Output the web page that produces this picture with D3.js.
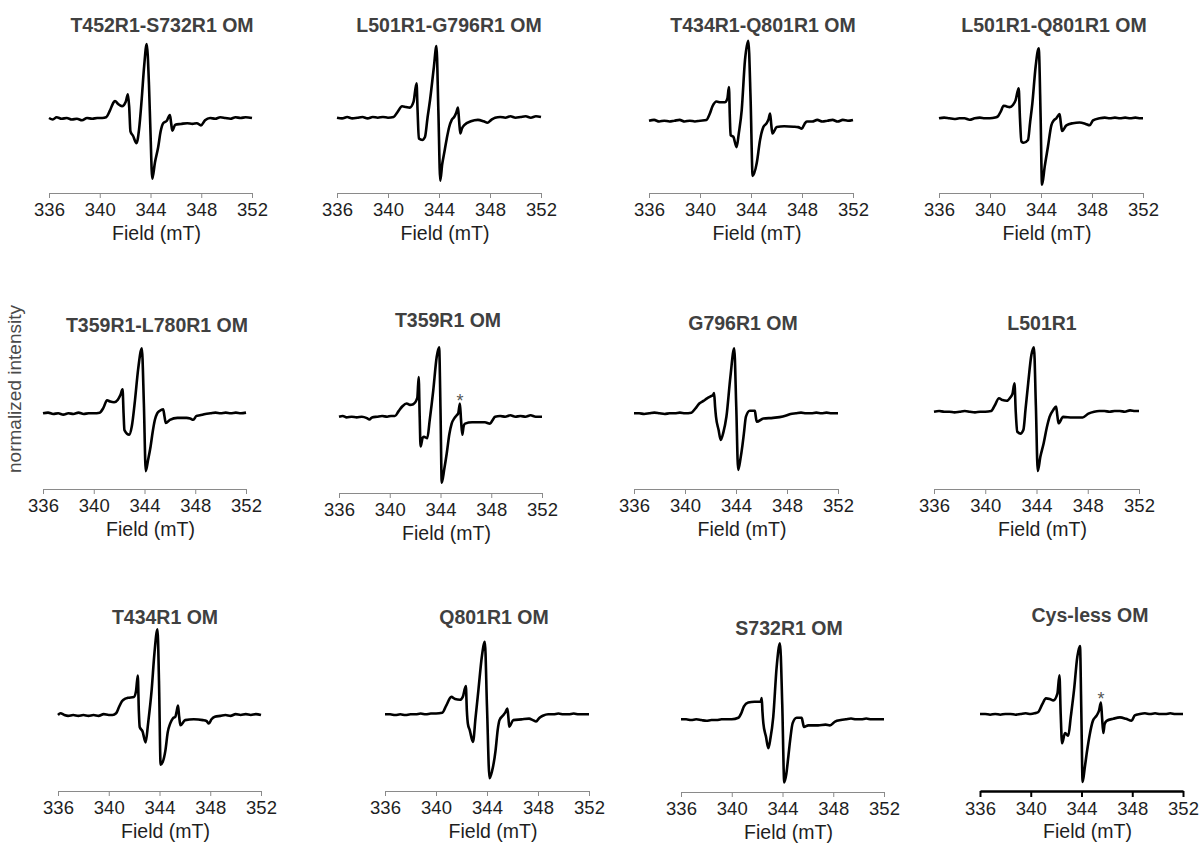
<!DOCTYPE html>
<html>
<head>
<meta charset="utf-8">
<script src="https://cdn.jsdelivr.net/npm/d3@7"></script>
<style>
  body { margin: 0; background: #fff; }
  svg { display: block; }
  text { font-family: "Liberation Sans", Arial, sans-serif; }
</style>
</head>
<body>
<svg width="1204" height="845"></svg>
<script>
// CW EPR spectra, [field (mT), normalized intensity]
const t452s732 = [[336,0],[336.3,-0.02],[336.6,0.01],[337,-0.01],[337.4,0],[337.8,-0.02],[338.2,-0.01],[338.6,-0.03],[339,0],[339.4,-0.01],[339.8,0],[340.2,0],[340.5,0.01],[340.8,0.1],[341.05,0.2],[341.2,0.23],[341.45,0.19],[341.75,0.16],[342.05,0.22],[342.22,0.32],[342.32,0.15],[342.42,-0.18],[342.62,-0.24],[342.9,-0.34],[343.1,-0.15],[343.3,0.24],[343.5,0.7],[343.7,1],[343.88,0.45],[344,-0.2],[344.14,-0.82],[344.35,-0.6],[344.6,-0.4],[344.8,-0.18],[345,-0.07],[345.27,-0.04],[345.53,0.04],[345.62,-0.06],[345.72,-0.17],[345.95,-0.09],[346.4,-0.08],[346.9,-0.07],[347.3,-0.08],[347.65,-0.07],[347.98,-0.1],[348.3,-0.03],[348.7,0],[349.1,-0.01],[349.5,0.01],[349.9,0],[350.3,-0.01],[350.7,0.01],[351.1,0],[351.5,0.01],[352,0]];
const l501g796 = [[336,0],[336.4,-0.01],[336.8,0.01],[337.2,-0.01],[337.6,0],[338,0.01],[338.4,-0.01],[338.8,0.01],[339.2,0],[339.6,0.01],[340,0],[340.44,0.01],[340.75,0.08],[341.1,0.16],[341.4,0.15],[341.7,0.14],[342,0.22],[342.24,0.48],[342.32,0.1],[342.42,-0.29],[342.69,-0.31],[342.9,-0.27],[343.1,0],[343.3,0.25],[343.6,0.71],[343.8,1],[343.95,0.1],[344.1,-0.88],[344.25,-0.65],[344.4,-0.5],[344.6,-0.3],[344.8,-0.13],[345,-0.03],[345.19,0.01],[345.35,0.07],[345.49,0.14],[345.58,-0.05],[345.67,-0.22],[345.8,-0.15],[346,-0.1],[346.5,-0.05],[347.05,-0.03],[347.5,-0.05],[347.8,-0.07],[348.1,-0.03],[348.4,0],[348.8,0.01],[349.2,0],[349.6,0.02],[350,0],[350.4,0.01],[350.8,0.02],[351.2,0],[351.6,0.02],[352,0.01]];
const t434q801 = [[336,0],[336.4,0.01],[336.8,-0.01],[337.2,0],[337.6,-0.01],[338,0],[338.4,0.01],[338.8,-0.01],[339.2,0],[339.6,-0.01],[340,0],[340.5,0.01],[340.75,0.08],[340.98,0.18],[341.3,0.24],[341.6,0.23],[341.95,0.23],[342.15,0.28],[342.27,0.42],[342.34,0.05],[342.4,-0.18],[342.61,-0.2],[342.87,-0.33],[343.05,-0.15],[343.27,0.13],[343.53,0.76],[343.79,1],[343.97,0.26],[344.13,-0.69],[344.45,-0.53],[344.71,-0.24],[344.97,-0.08],[345.23,-0.03],[345.38,0.02],[345.5,0.09],[345.59,-0.05],[345.68,-0.16],[346.02,-0.08],[346.6,-0.07],[347.33,-0.075],[347.7,-0.08],[347.99,-0.1],[348.2,-0.04],[348.38,-0.01],[348.8,-0.01],[349.2,0.01],[349.6,-0.01],[350,0],[350.4,0.01],[350.8,-0.01],[351.2,0.01],[351.6,0],[352,0.01]];
const l501q801 = [[336,0],[336.4,0.01],[336.8,0],[337.2,-0.01],[337.6,0],[338,0],[338.4,-0.02],[338.8,0],[339.2,0.01],[339.6,0],[340,0],[340.4,0.01],[340.63,0.03],[340.85,0.1],[341.07,0.18],[341.3,0.17],[341.54,0.16],[341.8,0.19],[342.01,0.26],[342.25,0.43],[342.35,0],[342.46,-0.33],[342.64,-0.35],[342.98,-0.31],[343.15,-0.05],[343.32,0.21],[343.58,0.74],[343.82,1],[343.97,0.02],[344.08,-0.95],[344.29,-0.69],[344.55,-0.4],[344.81,-0.1],[345,-0.03],[345.2,0],[345.46,0.06],[345.55,-0.06],[345.65,-0.18],[345.99,-0.1],[346.5,-0.07],[347.03,-0.06],[347.5,-0.08],[347.82,-0.1],[348.08,-0.03],[348.6,0],[349,0.01],[349.4,0],[349.8,0.01],[350.2,0],[350.6,0.01],[351,0],[351.4,0.01],[351.8,0],[352,0]];
const t359l780 = [[336,0],[336.4,0.01],[336.8,-0.01],[337.2,0],[337.6,-0.02],[338,0],[338.4,-0.01],[338.8,0.01],[339.2,-0.01],[339.6,0],[340,0],[340.47,0.01],[340.75,0.08],[341.05,0.2],[341.3,0.18],[341.6,0.17],[341.9,0.21],[342.1,0.28],[342.27,0.37],[342.35,0],[342.42,-0.26],[342.79,-0.33],[343,-0.2],[343.25,0.2],[343.5,0.68],[343.79,1],[343.95,0.15],[344.1,-0.89],[344.28,-0.72],[344.48,-0.51],[344.65,-0.28],[344.82,-0.1],[345,0],[345.21,0.04],[345.47,0.06],[345.57,-0.04],[345.68,-0.15],[346,-0.1],[346.6,-0.07],[347.32,-0.07],[347.6,-0.08],[347.84,-0.1],[348.1,-0.04],[348.37,-0.03],[348.8,-0.01],[349.2,0],[349.6,0.01],[350,0],[350.4,0.01],[350.8,0],[351.2,0.01],[351.6,0],[352,0.01]];
const t359 = [[336,0],[336.3,0.01],[336.6,-0.01],[337,0],[337.4,-0.01],[337.8,0],[338.2,-0.02],[338.4,-0.04],[338.6,-0.01],[339,0],[339.4,0.01],[339.8,0],[340.1,0.01],[340.41,0.01],[340.7,0.08],[341,0.15],[341.33,0.19],[341.6,0.17],[341.85,0.18],[342.17,0.27],[342.28,0.57],[342.36,0],[342.43,-0.43],[342.6,-0.3],[342.7,-0.29],[342.96,-0.31],[343.15,-0.05],[343.43,0.38],[343.7,0.86],[343.89,1],[344,0.1],[344.1,-0.95],[344.3,-0.75],[344.49,-0.53],[344.7,-0.25],[344.88,-0.1],[345.1,-0.02],[345.28,0.02],[345.4,0.05],[345.53,0.19],[345.62,-0.05],[345.72,-0.26],[345.82,-0.14],[345.93,-0.1],[346.5,-0.08],[347.1,-0.08],[347.5,-0.08],[347.9,-0.1],[348.1,-0.05],[348.3,0],[348.7,0.01],[349.1,0],[349.5,0.02],[349.9,0],[350.3,0.01],[350.7,0],[351.1,0.02],[351.5,0],[352,0]];
const g796 = [[336,0],[336.4,0],[336.8,-0.01],[337.2,0],[337.6,0.01],[338,0],[338.4,-0.01],[338.8,0],[339.2,0],[339.6,0.01],[340,0],[340.5,0.01],[340.8,0.07],[341.12,0.15],[341.45,0.19],[341.73,0.23],[342,0.26],[342.19,0.28],[342.28,0.31],[342.36,0.1],[342.43,-0.05],[342.64,-0.26],[342.8,-0.41],[343,-0.3],[343.25,-0.05],[343.56,0.56],[343.86,1],[344.02,0.1],[344.17,-0.87],[344.35,-0.7],[344.5,-0.5],[344.62,-0.31],[344.78,-0.05],[345.08,0.04],[345.48,0.04],[345.55,-0.05],[345.63,-0.13],[346.15,-0.08],[346.9,-0.07],[347.67,-0.05],[348,-0.03],[348.28,-0.01],[348.7,0],[349.1,0.01],[349.5,0],[349.9,0],[350.3,0.01],[350.7,0],[351.1,0.01],[351.5,0],[352,0]];
const l501 = [[336,0],[336.4,0.01],[336.8,0],[337.2,0],[337.6,-0.01],[338,0],[338.4,0.01],[338.8,0],[339.2,-0.01],[339.6,0],[340,0],[340.46,0.01],[340.75,0.1],[341.07,0.21],[341.35,0.18],[341.68,0.17],[341.95,0.22],[342.13,0.28],[342.28,0.44],[342.38,0],[342.5,-0.31],[342.74,-0.34],[342.98,-0.28],[343.15,0.05],[343.35,0.44],[343.6,0.88],[343.8,1],[343.95,0.1],[344.1,-0.92],[344.3,-0.7],[344.56,-0.49],[344.8,-0.25],[345.02,-0.08],[345.32,0.03],[345.53,0.08],[345.62,-0.05],[345.72,-0.18],[346.08,-0.08],[346.8,-0.09],[347.6,-0.09],[348.05,-0.03],[348.5,0],[348.9,0.01],[349.3,0.01],[349.7,0],[350.1,0.01],[350.5,0.01],[350.9,0],[351.3,0.02],[351.7,0.01],[352,0.01]];
const t434 = [[336,0],[336.2,0.02],[336.5,0],[336.8,-0.01],[337.2,0],[337.6,-0.01],[338,0],[338.4,-0.01],[338.8,0],[339.2,-0.01],[339.6,0.01],[340,0],[340.3,0],[340.58,0.02],[340.8,0.09],[341.04,0.16],[341.3,0.19],[341.51,0.2],[341.98,0.21],[342.15,0.28],[342.29,0.46],[342.37,0.05],[342.44,-0.14],[342.66,-0.19],[342.91,-0.32],[343.1,-0.1],[343.38,0.29],[343.6,0.72],[343.84,1],[343.96,0.4],[344.09,-0.58],[344.25,-0.55],[344.47,-0.41],[344.65,-0.2],[344.84,-0.1],[345.05,-0.04],[345.25,-0.02],[345.35,0.04],[345.46,0.11],[345.55,-0.02],[345.65,-0.12],[346.02,-0.06],[346.7,-0.05],[347.42,-0.06],[347.7,-0.07],[347.89,-0.1],[348.1,-0.05],[348.36,-0.02],[348.8,-0.01],[349.2,0],[349.6,-0.01],[350,0.01],[350.4,0],[350.8,0.01],[351.2,0],[351.6,0.01],[352,0]];
const q801 = [[336,0],[336.4,0],[336.8,-0.01],[337.2,0],[337.6,-0.01],[338,0],[338.4,0],[338.8,0.01],[339.2,0],[339.6,0.01],[340,0.01],[340.49,0.02],[340.8,0.12],[341.2,0.24],[341.5,0.21],[341.88,0.2],[342.1,0.24],[342.34,0.39],[342.42,0.05],[342.5,-0.13],[342.65,-0.22],[342.9,-0.38],[343.1,-0.05],[343.33,0.34],[343.6,0.8],[343.83,1],[344,0.1],[344.2,-0.88],[344.4,-0.78],[344.67,-0.5],[344.85,-0.2],[344.98,-0.08],[345.29,-0.01],[345.45,0.03],[345.6,0.08],[345.68,-0.05],[345.75,-0.17],[346.06,-0.08],[346.7,-0.07],[347.3,-0.06],[347.6,-0.08],[347.85,-0.1],[348.1,-0.05],[348.38,-0.02],[348.8,0],[349.2,0],[349.6,0.01],[350,0],[350.4,0],[350.8,0.01],[351.2,0],[351.6,0],[352,0]];
const s732 = [[336,0],[336.4,0],[336.8,-0.01],[337.2,0],[337.6,-0.01],[338,-0.02],[338.4,-0.01],[338.8,-0.01],[339.2,0],[339.6,0],[340,0],[340.52,0.02],[340.75,0.08],[340.96,0.17],[341.3,0.22],[341.8,0.23],[342.28,0.23],[342.36,0.28],[342.42,0.1],[342.49,-0.05],[342.7,-0.23],[342.88,-0.38],[343.05,-0.25],[343.27,0.03],[343.54,0.69],[343.8,1],[343.98,0.2],[344.14,-0.83],[344.3,-0.72],[344.46,-0.49],[344.62,-0.25],[344.8,-0.05],[345.12,0.02],[345.51,0.02],[345.6,-0.04],[345.69,-0.1],[346.03,-0.08],[346.8,-0.08],[347.4,-0.07],[347.74,-0.08],[348.14,-0.03],[348.6,-0.01],[349,0],[349.4,0.01],[349.8,0],[350.2,0],[350.6,0.01],[351,0],[351.4,0],[352,0]];
const cysless = [[336,0],[336.4,0],[336.8,-0.01],[337.2,0],[337.6,-0.01],[338,0],[338.4,0],[338.8,-0.01],[339.2,0],[339.6,0.01],[340,0],[340.3,0.01],[340.6,0.03],[340.9,0.14],[341.2,0.23],[341.5,0.22],[341.78,0.2],[342.1,0.3],[342.26,0.57],[342.36,0],[342.47,-0.43],[342.7,-0.28],[342.96,-0.32],[343.15,-0.05],[343.41,0.35],[343.67,0.84],[343.88,1],[343.98,0.1],[344.09,-1],[344.25,-0.8],[344.41,-0.58],[344.65,-0.3],[344.88,-0.11],[345.2,-0.02],[345.38,0.05],[345.53,0.17],[345.62,-0.05],[345.72,-0.28],[345.82,-0.15],[345.98,-0.1],[346.5,-0.07],[347.03,-0.05],[347.5,-0.07],[347.95,-0.1],[348.2,-0.02],[348.6,0],[349,0.01],[349.4,0],[349.8,0.01],[350.2,0],[350.6,0],[351,0.01],[351.4,0],[352,0]];

const titles = ["T452R1-S732R1 OM", "L501R1-G796R1 OM", "T434R1-Q801R1 OM", "L501R1-Q801R1 OM",
  "T359R1-L780R1 OM", "T359R1 OM", "G796R1 OM", "L501R1",
  "T434R1 OM", "Q801R1 OM", "S732R1 OM", "Cys-less OM"];
const spectra = [t452s732, l501g796, t434q801, l501q801, t359l780, t359, g796, l501, t434, q801, s732, cysless];
const fieldTicks = [336, 340, 344, 348, 352];
const starPanels = [5, 11];   // peaks marked with an asterisk
const starFields = [345.53, 345.53];

// panel placement: [x of 336, x of 352, axis y, y of 0, y of 1, title x, title y]
const layout = [
  [49, 252, 193, 118, 44, 162, 25],
  [337, 541, 193, 117.7, 46, 449, 25],
  [649, 853, 193, 120.7, 40.7, 763, 25],
  [939, 1143, 193, 118.3, 48.3, 1054, 25],
  [43, 246, 489, 413.3, 348.3, 157, 325],
  [339, 542, 493, 416.7, 347.3, 448, 320],
  [634, 838, 489, 413.3, 348.3, 743, 323],
  [934, 1139, 489, 411.7, 347.3, 1042, 323],
  [58, 261, 791, 715, 629.3, 165, 617],
  [385, 589, 791, 714.3, 641.7, 494, 617],
  [681, 884, 792, 719.3, 643.3, 789, 628],
  [980, 1183, 791, 714, 646, 1090, 615]
];

const svg = d3.select("svg");

spectra.forEach((data, i) => {
  const [x0, x1, axisY, baseY, peakY, tx, ty] = layout[i];
  const x = d3.scaleLinear().domain([336, 352]).range([x0, x1]);
  const y = d3.scaleLinear().domain([0, 1]).range([baseY, peakY]);
  const heavy = i === 11; // last panel has a black, thick axis
  const g = svg.append("g");

  const axis = g.append("g")
    .attr("transform", `translate(0,${axisY})`)
    .call(d3.axisBottom(x).tickValues(fieldTicks).tickSizeInner(heavy ? 6 : 5)
      .tickSizeOuter(0).tickPadding(5).tickFormat(d3.format("d")));
  axis.select(".domain").attr("stroke", heavy ? "#000" : "#8a8a8a").attr("stroke-width", heavy ? 2.5 : 1);
  axis.selectAll(".tick line").attr("stroke", heavy ? "#000" : "#8a8a8a").attr("stroke-width", heavy ? 2 : 1);
  axis.selectAll(".tick text")
    .attr("fill", "#1e1e1e")
    .style("font-size", "18.5px")
    .style("font-family", "'Liberation Sans', Arial, sans-serif");

  g.append("text")
    .attr("x", (x0 + x1) / 2 + 6)
    .attr("y", axisY + 40)
    .attr("dy", "0.35em")
    .attr("text-anchor", "middle")
    .attr("fill", "#1e1e1e")
    .style("font-size", "19.5px")
    .text("Field (mT)");

  g.append("text")
    .attr("x", tx)
    .attr("y", ty)
    .attr("dy", "0.35em")
    .attr("text-anchor", "middle")
    .attr("fill", "#404040")
    .style("font-size", "19.5px")
    .style("font-weight", "bold")
    .text(titles[i]);

  g.append("path")
    .datum(data)
    .attr("fill", "none")
    .attr("stroke", "#000")
    .attr("stroke-width", 2.6)
    .attr("stroke-linejoin", "round")
    .attr("d", d3.line().x(d => x(d[0])).y(d => y(d[1])).curve(d3.curveMonotoneX));

  const s = starPanels.indexOf(i);
  if (s >= 0) {
    const f = starFields[s];
    const top = d3.max(data.filter(d => Math.abs(d[0] - f) < 0.05), d => d[1]);
    g.append("text")
      .attr("x", x(f))
      .attr("y", y(top) + 3)
      .attr("text-anchor", "middle")
      .attr("fill", "#555")
      .style("font-size", "18px")
      .text("*");
  }
});

// shared y label
svg.append("text")
  .attr("transform", "translate(21,389) rotate(-90)")
  .attr("text-anchor", "middle")
  .attr("fill", "#4a4a4a")
  .style("font-size", "19px")
  .text("normalized intensity");
</script>
</body>
</html>
